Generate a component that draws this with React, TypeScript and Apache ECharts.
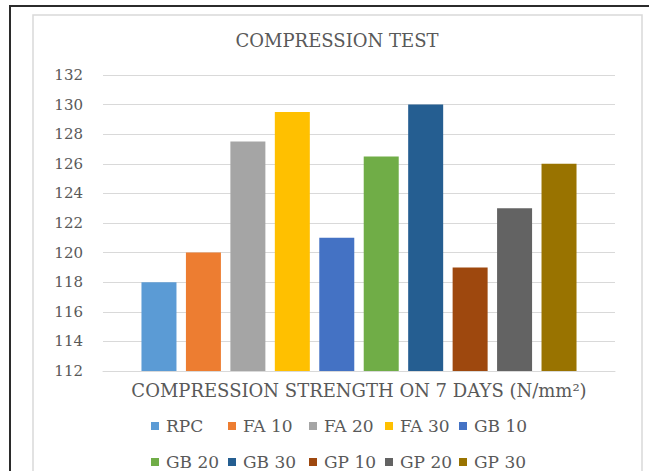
import React, { useEffect, useRef } from "react";
import * as echarts from "echarts";

const category = ["COMPRESSION STRENGTH ON 7 DAYS (N/mm²)"];
const seriesNames = ["RPC", "FA 10", "FA 20", "FA 30", "GB 10", "GB 20", "GB 30", "GP 10", "GP 20", "GP 30"];
const seriesValues = [118, 120, 127.5, 129.5, 121, 126.5, 130, 119, 123, 126];
const seriesColors = ["#5b9bd5", "#ed7d31", "#a5a5a5", "#ffc000", "#4472c4", "#70ad47", "#255e91", "#9e480e", "#636363", "#997300"];
const legendColumns = [
  ["RPC", "GB 20"],
  ["FA 10", "GB 30"],
  ["FA 20", "GP 10"],
  ["FA 30", "GP 20"],
  ["GB 10", "GP 30"],
];
const legendLefts = [151, 228, 309, 385, 459];
const yMin = 112;
const yMax = 132;
const yStep = 2;

const FONT = "DejaVu Serif";
const TEXT = "#595959";

export default function App() {
  const ref = useRef<HTMLDivElement>(null);
  useEffect(() => {
    if (!ref.current) return;
    const chart = echarts.init(ref.current, null, { renderer: "svg" });
    chart.setOption({
      animation: false,
      backgroundColor: "#ffffff",
      textStyle: { fontFamily: FONT },
      title: {
        text: "COMPRESSION TEST",
        left: 337,
        textAlign: "center",
        top: 31,
        padding: 0,
        textStyle: { fontFamily: FONT, fontSize: 18, fontWeight: "normal", color: TEXT },
      },
      grid: { left: 103, right: 34, top: 75, bottom: 100, containLabel: false },
      xAxis: {
        type: "category",
        data: category,
        axisTick: { show: false },
        axisLine: { lineStyle: { color: "#d9d9d9", width: 1 } },
        axisLabel: { color: TEXT, fontFamily: FONT, fontSize: 18, margin: 10 },
      },
      yAxis: {
        type: "value",
        min: yMin,
        max: yMax,
        interval: yStep,
        axisLine: { show: false },
        axisTick: { show: false },
        splitLine: { lineStyle: { color: "#d9d9d9", width: 1 } },
        axisLabel: { color: TEXT, fontFamily: FONT, fontSize: 15, margin: 20 },
      },
      legend: legendColumns.map((col, i) => ({
        orient: "vertical",
        left: legendLefts[i],
        top: 417,
        padding: 0,
        itemGap: 18,
        itemWidth: 8,
        itemHeight: 8,
        icon: "rect",
        data: col,
        textStyle: { color: TEXT, fontFamily: FONT, fontSize: 17, lineHeight: 18, padding: [0, 0, 0, 2] },
      })),
      series: seriesNames.map((name, i) => ({
        name,
        type: "bar",
        data: [seriesValues[i]],
        barWidth: 35,
        barGap: "27%",
        itemStyle: { color: seriesColors[i] },
      })),
      graphic: [
        {
          type: "polyline",
          silent: true,
          shape: { points: [[10, 471], [10, 6], [649, 6]] },
          style: { stroke: "#2b2b2b", lineWidth: 2, fill: "none" },
        },
        {
          type: "polyline",
          silent: true,
          shape: { points: [[33, 471], [33, 15], [642, 15], [642, 471]] },
          style: { stroke: "#d9d9d9", lineWidth: 1.5, fill: "none" },
        },
      ],
    });
    return () => chart.dispose();
  }, []);
  return <div ref={ref} style={{ position: "absolute", left: 0, top: 0, width: 649, height: 471 }} />;
}
